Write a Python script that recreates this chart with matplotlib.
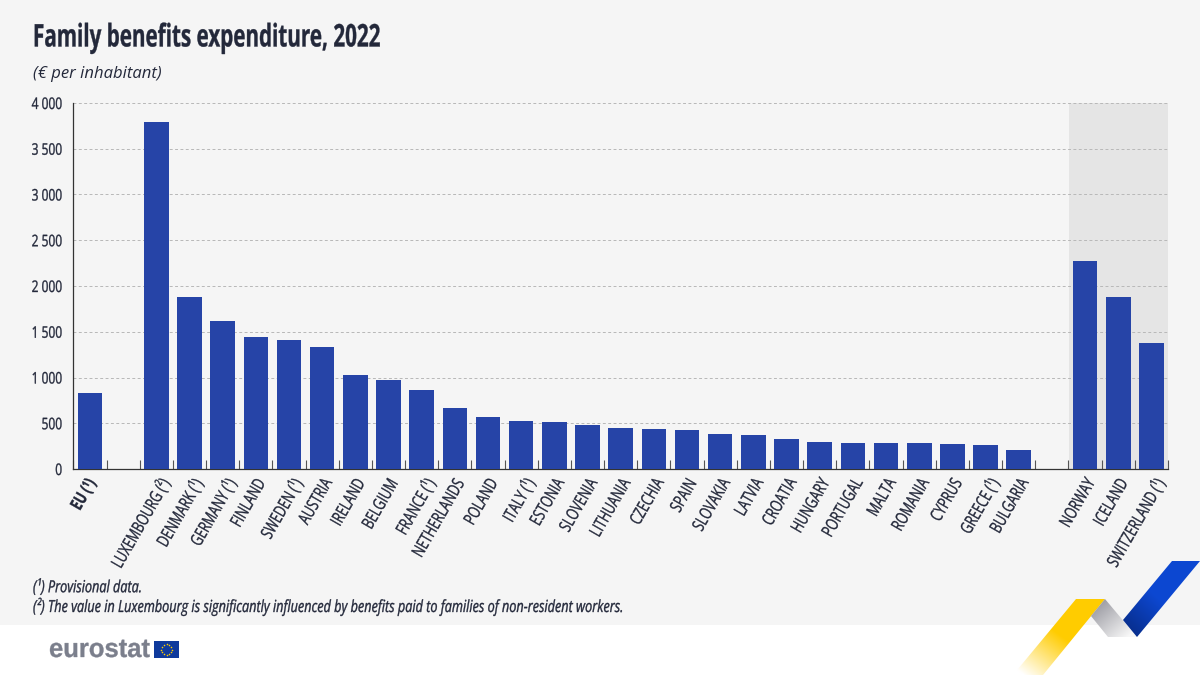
import matplotlib
matplotlib.use('Agg')
import matplotlib.pyplot as plt
import matplotlib.patheffects as pe
from matplotlib.path import Path
from matplotlib.transforms import ScaledTranslation
import numpy as np
from matplotlib.patches import Polygon, Rectangle

W, H = 1200, 675
DARK = '#23283a'
BAR = '#2644a7'
FONT = ['Open Sans', 'DejaVu Sans']

countries = ['EU (¹)', '', 'LUXEMBOURG (²)', 'DENMARK (¹)', 'GERMANY (¹)', 'FINLAND', 'SWEDEN (¹)',
             'AUSTRIA', 'IRELAND', 'BELGIUM', 'FRANCE (¹)', 'NETHERLANDS', 'POLAND', 'ITALY (¹)',
             'ESTONIA', 'SLOVENIA', 'LITHUANIA', 'CZECHIA', 'SPAIN', 'SLOVAKIA', 'LATVIA', 'CROATIA',
             'HUNGARY', 'PORTUGAL', 'MALTA', 'ROMANIA', 'CYPRUS', 'GREECE (¹)', 'BULGARIA', '',
             'NORWAY', 'ICELAND', 'SWITZERLAND (¹)']
values = [830, 0, 3795, 1880, 1615, 1440, 1410, 1333, 1027, 975, 865, 667, 570, 525,
          515, 481, 448, 437, 426, 385, 372, 328, 297, 286, 284, 282, 273, 262, 208, 0,
          2273, 1875, 1375]
y_ticks = [0, 500, 1000, 1500, 2000, 2500, 3000, 3500, 4000]
y_labels = ['0', '500', '1 000', '1 500', '2 000', '2 500', '3 000', '3 500', '4 000']


class Narrow(pe.AbstractPathEffect):
    # no condensed font is installed, so squeeze the glyphs along the baseline
    def __init__(self, sx, right=False, stroke=0.25):
        super().__init__()
        self.sx = sx
        self.right = right
        self.stroke = stroke

    def draw_path(self, renderer, gc, tpath, affine, rgbFace=None):
        verts = tpath.vertices.copy()
        x0 = verts[:, 0].max() if self.right else 0
        verts[:, 0] = x0 + (verts[:, 0] - x0) * self.sx
        gc0 = renderer.new_gc()
        gc0.copy_properties(gc)
        gc0.set_linewidth(self.stroke)
        gc0.set_foreground(rgbFace)
        renderer.draw_path(gc0, Path(verts, tpath.codes), affine, rgbFace)
        gc0.restore()


plt.rcParams['font.family'] = FONT
fig = plt.figure(figsize=(W / 100, H / 100), dpi=100, facecolor='white')

# page background + decoration, in pixel coordinates
bg = fig.add_axes([0, 0, 1, 1], zorder=0)
bg.set_xlim(0, W)
bg.set_ylim(H, 0)
bg.axis('off')
bg.add_patch(Rectangle((0, 0), W, 625, color='#f5f5f5', lw=0))


def ribbon(ax, pts, start, end, p0, p1):
    # polygon filled with a linear gradient from p0 to p1
    xs = np.linspace(0, W, W + 1)
    ys = np.linspace(0, H, H + 1)
    xx, yy = np.meshgrid(xs, ys)
    d = np.array(p1, float) - np.array(p0, float)
    t = ((xx - p0[0]) * d[0] + (yy - p0[1]) * d[1]) / (d @ d)
    t = np.clip(t, 0, 1)[..., None]
    img = np.array(start) * (1 - t) + np.array(end) * t
    im = ax.imshow(img, extent=(0, W, H, 0), aspect='auto', zorder=3)
    im.set_clip_path(Polygon(pts, transform=ax.transData))


ribbon(bg, [(1076, 599), (1105, 599), (1043, 675), (1013, 675)],
       (1, 0.8, 0), (1, 1, 1), (1056, 632), (1024, 675))
ribbon(bg, [(1105, 599), (1137, 637), (1108, 637), (1091, 616)],
       (0.6, 0.6, 0.63), (0.97, 0.97, 0.97), (1095, 605), (1125, 640))
ribbon(bg, [(1172, 561), (1200, 561), (1137, 637), (1123, 620)],
       (0.05, 0.28, 0.82), (0.03, 0.18, 0.55), (1160, 600), (1130, 632))
bg.set_xlim(0, W)
bg.set_ylim(H, 0)

# logo
logo = bg.text(49, 650, 'eurostat', family=['Liberation Sans', 'DejaVu Sans'], fontsize=19, weight='bold',
               color='#7b7f8c', va='center', ha='left')
logo.set_path_effects([Narrow(0.97)])
bg.add_patch(Rectangle((154, 641), 25, 17, color='#0f3a9c', lw=0))
angles = np.arange(12) * np.pi / 6
bg.scatter(166.5 + 5.5 * np.cos(angles), 649.5 + 5.5 * np.sin(angles), s=1.3, color='#ffcc00', lw=0, zorder=3)

# chart
ax = fig.add_axes([73.4 / W, 1 - 469 / H, 1094.6 / W, 366 / H], zorder=1)
ax.patch.set_alpha(0)
x = np.arange(len(countries))
ax.axvspan(29.52, 32.5, color='#e5e5e5', lw=0, zorder=0)
ax.bar(x, values, width=0.74, color=BAR, zorder=3)

ax.set_xlim(-0.5, 32.5)
ax.set_ylim(0, 4000)
ax.set_yticks(y_ticks)
ax.set_yticklabels(y_labels, fontsize=11.5, color=DARK)
ax.set_xticks(x)
ax.set_xticklabels(countries, rotation=60, ha='right', va='center', rotation_mode='anchor', fontsize=12.5, color=DARK)
ax.get_xticklabels()[0].set_fontweight('bold')
ax.tick_params(axis='y', length=0, pad=8)
ax.tick_params(axis='x', length=0, pad=8)
ax.set_xticks(np.arange(-0.5, 33), minor=True)
ax.tick_params(axis='x', which='minor', direction='in', length=6.5, width=0.8, color='#555555')
ax.grid(axis='y', color='#b8b8b8', lw=0.7, ls=(0, (3, 2.5)), zorder=1)

# tick_params resets label transforms, so shift the labels after it
for label in ax.get_xticklabels():
    name = label.get_text()
    dx = 2 if name.startswith('EU') else 11 if '(' in name else 7
    label.set_path_effects([Narrow(0.72, right=True)])
    label.set_transform(label.get_transform() + ScaledTranslation(dx / 100, 0, fig.dpi_scale_trans))
for label in ax.get_yticklabels():
    label.set_path_effects([Narrow(0.75, right=True)])

for side in ['top', 'right']:
    ax.spines[side].set_visible(False)
for side in ['left', 'bottom']:
    ax.spines[side].set_color('#333333')
    ax.spines[side].set_linewidth(0.9)

# texts
title = fig.text(33 / W, 1 - 38.5 / H, 'Family benefits expenditure, 2022', fontsize=22.5, weight='bold',
                 color=DARK, va='center')
title.set_path_effects([Narrow(0.66)])
unit = fig.text(33 / W, 1 - 73.5 / H, '(€ per inhabitant)', fontsize=12,
                style='italic', color=DARK, va='center')
note1 = fig.text(33 / W, 1 - 588 / H, '(¹) Provisional data.', fontsize=12, style='italic', color=DARK, va='center')
note2 = fig.text(33 / W, 1 - 607 / H,
                 '(²) The value in Luxembourg is significantly influenced by benefits paid to families of non-resident workers.',
                 fontsize=12, style='italic', color=DARK, va='center')
note1.set_path_effects([Narrow(0.76)])
note2.set_path_effects([Narrow(0.76)])

fig.savefig('out.png', dpi=100)
